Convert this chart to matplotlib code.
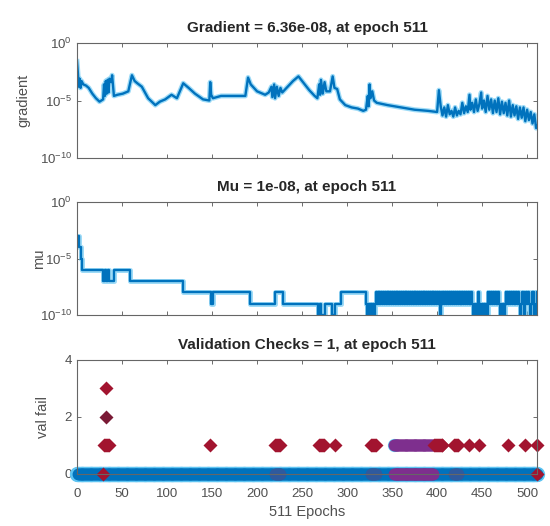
import numpy as np
import matplotlib
matplotlib.use("Agg")
import matplotlib.pyplot as plt
from matplotlib.ticker import NullLocator

plt.rcParams['font.family'] = ['Liberation Sans', 'DejaVu Sans']
plt.rcParams['mathtext.fontset'] = 'custom'
plt.rcParams['mathtext.rm'] = 'Liberation Sans'

# gradient trace (epoch, log10 of gradient)
grad_epochs = [0, 1, 2, 3, 4, 5, 7, 10, 13, 17, 21, 25, 29, 30, 31, 32, 33, 34, 35, 36,
               38, 39, 41, 45, 51, 57, 61, 64, 67, 72, 79, 87, 92, 98, 105, 111, 118,
               124, 131, 140, 147, 148, 149, 151, 160, 170, 180, 187, 190, 193, 200,
               209, 213, 216, 217, 219, 220, 222, 224, 226, 228, 234, 240, 246, 252,
               258, 264, 267, 269, 270, 271, 273, 275, 277, 281, 284, 286, 289, 292,
               298, 305, 312, 318, 321, 323, 324, 325, 326, 328, 330, 333, 345, 360,
               375, 390, 400, 402, 404, 406, 408, 410, 412, 414, 416, 418, 420, 422,
               424, 426, 428, 430, 432, 434, 436, 437, 439, 441, 443, 445, 447, 449,
               450, 452, 454, 456, 458, 460, 462, 464, 466, 468, 470, 472, 474, 476,
               478, 480, 482, 484, 486, 488, 490, 492, 494, 496, 498, 500, 502, 504,
               506, 508, 510, 511]
grad_log = [-1.6, -2.6, -3.8, -3.1, -3.9, -3.3, -3.6, -3.7, -3.9, -4.4, -4.8, -5.1, -4.9,
            -3.6, -4.6, -3.3, -4.4, -3.2, -4.3, -3.1, -3.4, -2.8, -4.6, -4.5, -4.4, -4.2,
            -2.8, -3.3, -3.5, -3.8, -4.8, -5.4, -5.1, -4.9, -4.5, -4.8, -3.5, -3.9, -4.4,
            -4.9, -5.0, -3.4, -4.5, -4.8, -4.6, -4.6, -4.6, -4.6, -3.0, -3.6, -4.2, -4.5,
            -4.3, -3.8, -4.7, -3.6, -4.8, -3.8, -4.6, -3.9, -4.3, -3.8, -3.3, -2.9, -3.5,
            -4.1, -4.6, -4.8, -3.6, -4.5, -3.2, -4.4, -3.4, -4.2, -4.2, -2.9, -3.9, -4.0,
            -4.9, -5.4, -5.6, -5.7, -5.9, -5.8, -4.6, -5.5, -3.6, -4.8, -4.2, -5.0, -5.2,
            -5.4, -5.6, -5.8, -5.9, -6.0, -4.1, -5.5, -6.3, -5.6, -6.4, -5.4, -6.2, -5.9,
            -6.4, -5.6, -6.3, -5.9, -6.2, -5.2, -6.1, -5.5, -6.0, -4.5, -5.8, -5.2, -6.0,
            -4.9, -5.9, -5.3, -4.3, -5.7, -5.0, -6.0, -4.6, -5.8, -4.9, -6.1, -5.0, -6.0,
            -4.8, -6.2, -5.1, -6.1, -5.2, -6.3, -5.0, -6.4, -5.4, -6.3, -5.5, -6.6, -5.6,
            -6.5, -5.6, -6.8, -5.8, -6.7, -6.0, -7.0, -6.2, -7.4, -7.2]

# mu: change points for epochs 0-319 (exponent of 10, negative)
mu_step_epochs = [0, 2, 4, 6, 29, 31, 32, 34, 35, 41, 59, 118, 149, 151, 192, 220, 229,
                  268, 270, 271, 275, 283, 287, 293]
mu_step_exp = [3, 4, 5, 6, 7, 6, 7, 6, 7, 6, 7, 8, 9, 8, 9, 8, 9, 10, 9, 10, 9, 10, 9, 8]
# mu for epochs 320-511, one digit per epoch ('0' means 10)
mu_dense = ("89090909090989898989898989898989"
            "89898989898989898989898989898989"
            "89898989898989898980989898989898"
            "89898989898989898989898909090890"
            "90909090898989898989890909098989"
            "89898989898909898098989098980098")

# validation checks
n_epochs = 512
red_one = [30, 31, 32, 33, 34, 35, 148, 220, 221, 222, 223, 224, 225, 269, 270, 271,
           272, 273, 274, 287, 327, 328, 329, 330, 331, 332, 397, 398, 399, 400, 401,
           402, 403, 404, 405, 406, 419, 420, 421, 422, 423, 435, 446, 479, 498, 511]
red_two = [32]
red_three = [32]
red_zero = [29, 511]
purple_first, purple_last = 352, 395
dark_zero = [220, 221, 222, 223, 224, 225, 327, 328, 329, 330, 331, 332, 419, 420,
             421, 422, 423]

blue = '#0072BD'
light = '#5EC4F2'
red = '#A2142F'
purple = '#7E2F8E'
tick_col = '#505050'

fig = plt.figure(figsize=(5.5, 5.26), dpi=100)
ax1 = fig.add_axes([0.14, 0.6996, 0.8364, 0.2186])
ax2 = fig.add_axes([0.14, 0.4011, 0.8364, 0.2148])
ax3 = fig.add_axes([0.14, 0.0989, 0.8364, 0.2167])


def style(ax):
    ax.set_xlim(0, 511)
    ax.set_xticks(range(0, 501, 50))
    ax.tick_params(direction='in', top=True, right=True, length=3, width=0.6,
                   color='#555555', labelcolor=tick_col, labelsize=9.5)
    for s in ax.spines.values():
        s.set_color('#666666')
        s.set_linewidth(0.8)


def log_axis(ax):
    ax.set_yscale('log')
    ax.set_ylim(1e-10, 1)
    ax.set_yticks([1e-10, 1e-5, 1])
    ax.yaxis.set_minor_locator(NullLocator())


def titled(ax, text):
    ax.set_title(text, fontsize=11, fontweight='bold', color='#262626', pad=8)


# gradient
g = 10.0 ** np.array(grad_log)
ax1.plot(grad_epochs, g, color=light, lw=3.6, alpha=0.6)
ax1.plot(grad_epochs, g, color=blue, lw=1.7)
log_axis(ax1)
style(ax1)
ax1.tick_params(labelbottom=False)
ax1.set_ylabel('gradient', fontsize=10.5, color=tick_col)
ax1.yaxis.set_label_coords(-0.102, 0.5)
titled(ax1, 'Gradient = 6.36e-08, at epoch 511')

# mu
mu_epochs = mu_step_epochs + list(range(320, 320 + len(mu_dense)))
mu_exp = mu_step_exp + [10 if c == '0' else int(c) for c in mu_dense]
m = 10.0 ** (-np.array(mu_exp, dtype=float))
ax2.plot(mu_epochs, m, color=light, lw=3.6, alpha=0.6, drawstyle='steps-post')
ax2.plot(mu_epochs, m, color=blue, lw=1.7, drawstyle='steps-post')
log_axis(ax2)
style(ax2)
ax2.tick_params(labelbottom=False)
ax2.set_ylabel('mu', fontsize=10.5, color=tick_col)
ax2.yaxis.set_label_coords(-0.067, 0.5)
titled(ax2, 'Mu = 1e-08, at epoch 511')

# validation checks
all_ep = np.arange(n_epochs)
purple_ep = np.arange(purple_first, purple_last + 1)
ax3.plot(all_ep, np.zeros(n_epochs), 'o', ms=11, color=light, mec='none', clip_on=False)
ax3.plot(all_ep[1:], np.zeros(n_epochs - 1), 'o', ms=8.5, color=blue, mec='none',
         clip_on=False)
ax3.plot(dark_zero, np.zeros(len(dark_zero)), 'o', ms=8.5, color='#2F5A9E', mec='none',
         clip_on=False)
ax3.plot(purple_ep, np.zeros(len(purple_ep)), 'o', ms=8.5, color=purple, mec='none',
         clip_on=False)
ax3.plot(red_zero, np.zeros(len(red_zero)), 'D', ms=7, color=red, mec='none',
         clip_on=False)
ax3.plot([purple_first], [1], 'o', ms=9.5, color=light, mec='none', clip_on=False)
ax3.plot(purple_ep, np.ones(len(purple_ep)), 'o', ms=8.5, color=purple, mec='none',
         clip_on=False)
ax3.plot(red_one, np.ones(len(red_one)), 'D', ms=7.5, color=red, mec='none',
         clip_on=False)
ax3.plot(red_two, 2 * np.ones(len(red_two)), 'D', ms=7, color='#7A1A35', mec='none')
ax3.plot(red_three, 3 * np.ones(len(red_three)), 'D', ms=7.5, color=red, mec='none')
ax3.set_ylim(0, 4)
ax3.set_yticks([0, 2, 4])
style(ax3)
ax3.tick_params(axis='x', pad=10)
ax3.set_ylabel('val fail', fontsize=10.5, color=tick_col)
ax3.yaxis.set_label_coords(-0.059, 0.5)
ax3.set_xlabel('511 Epochs', fontsize=10.5, color=tick_col, labelpad=4)
titled(ax3, 'Validation Checks = 1, at epoch 511')

fig.savefig('out.png', dpi=100)
